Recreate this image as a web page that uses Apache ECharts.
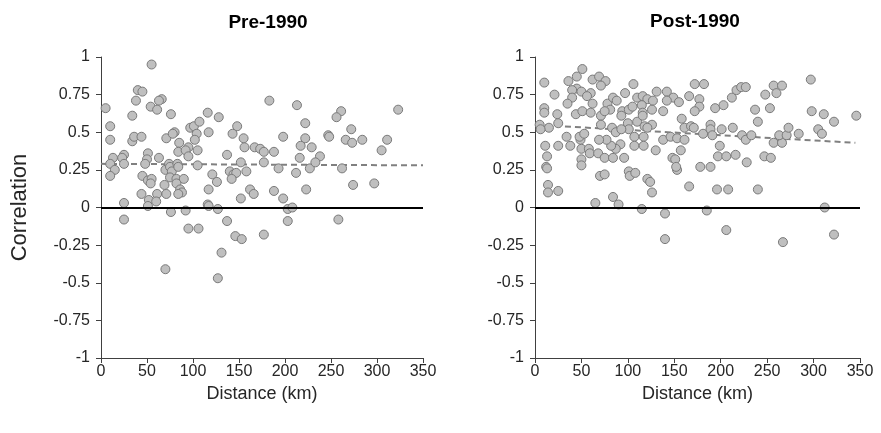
<!DOCTYPE html>
<html>
<head>
<meta charset="utf-8">
<script src="https://cdn.jsdelivr.net/npm/echarts@6/dist/echarts.min.js"></script>
<style>
  html, body { margin: 0; padding: 0; background: #fff; }
  #chart { width: 881px; height: 433px; }
</style>
</head>
<body>
<div id="chart"></div>
<script>
// Panel titles and axis names
var panelTitles = ['Pre-1990', 'Post-1990'];
var xAxisName = 'Distance (km)';
var yAxisName = 'Correlation';

// Axis ranges and tick steps
var xRange = [0, 350];
var xStep = 50;
var yRange = [-1, 1];
var yStep = 0.25;

// Site pairs before 1990: [distance km, correlation]
var pre1990 = [
  [5,0.66],[55,0.95],[40,0.78],[45,0.77],[38,0.71],[66,0.72],[63,0.71],[54,0.67],[61,0.65],[76,0.62],
  [34,0.61],[10,0.54],[10,0.45],[34,0.44],[36,0.47],[44,0.47],[71,0.46],[80,0.50],[78,0.49],[85,0.43],
  [84,0.37],[97,0.53],[101,0.54],[107,0.57],[104,0.49],[102,0.45],[95,0.40],[92,0.38],[105,0.38],[95,0.34],
  [116,0.63],[117,0.50],[128,0.60],[148,0.54],[143,0.49],[155,0.46],[156,0.40],[167,0.40],[173,0.39],[177,0.37],
  [188,0.37],[137,0.35],[183,0.71],[198,0.47],[213,0.68],[222,0.56],[222,0.46],[217,0.41],[229,0.40],[216,0.33],
  [238,0.34],[247,0.48],[248,0.47],[261,0.64],[256,0.60],[272,0.52],[266,0.45],[273,0.43],[284,0.45],[305,0.38],
  [311,0.45],[323,0.65],[25,0.35],[23,0.33],[13,0.33],[51,0.36],[50,0.32],[63,0.33],
  [10,0.29],[15,0.25],[10,0.21],[25,0.29],[25,0.03],[25,-0.08],[48,0.29],[45,0.21],[51,0.18],[55,0.19],
  [54,0.16],[44,0.09],[52,0.05],[51,0.01],[61,0.09],[60,0.04],[69,0.15],[71,0.09],[70,0.25],[74,0.29],
  [75,0.27],[77,0.24],[75,0.20],[83,0.29],[84,0.27],[82,0.19],[90,0.19],[82,0.16],[86,0.12],[88,0.10],
  [84,0.09],[76,-0.03],[92,-0.02],[95,-0.14],[106,-0.14],[70,-0.41],[105,0.28],[117,0.12],[121,0.22],[126,0.17],
  [116,0.02],[117,0.01],[127,-0.01],[137,-0.09],[131,-0.30],[127,-0.47],[146,-0.19],[153,-0.21],[140,0.24],[144,0.22],
  [147,0.23],[142,0.19],[158,0.24],[152,0.06],[152,0.30],[162,0.12],[166,0.09],[177,0.30],[177,-0.18],[193,0.26],
  [188,0.11],[198,0.06],[203,-0.01],[208,0.00],[203,-0.09],[212,0.23],[223,0.12],[227,0.26],[233,0.30],[262,0.26],
  [258,-0.08],[274,0.15],[297,0.16]
];

// Site pairs after 1990: [distance km, correlation]
var post1990 = [
  [10,0.83],[51,0.92],[45,0.87],[36,0.84],[45,0.79],[62,0.85],[69,0.87],[76,0.84],[71,0.81],[106,0.82],
  [40,0.78],[40,0.73],[50,0.77],[60,0.76],[56,0.74],[21,0.75],[35,0.69],[62,0.69],[44,0.62],[51,0.64],
  [60,0.63],[10,0.66],[10,0.63],[24,0.62],[25,0.56],[5,0.55],[15,0.53],[6,0.52],[71,0.61],[78,0.69],
  [84,0.73],[88,0.71],[81,0.65],[75,0.64],[71,0.55],[83,0.53],[87,0.50],[97,0.76],[94,0.64],[93,0.61],
  [101,0.65],[105,0.67],[110,0.73],[116,0.74],[121,0.72],[127,0.71],[131,0.77],[142,0.77],[149,0.73],[155,0.70],
  [142,0.71],[115,0.68],[116,0.63],[126,0.65],[138,0.64],[110,0.57],[116,0.61],[118,0.54],[126,0.55],[121,0.53],
  [100,0.56],[101,0.52],[107,0.47],[117,0.47],[107,0.41],[117,0.41],[93,0.52],[92,0.42],[87,0.39],[82,0.41],
  [77,0.45],[69,0.45],[49,0.45],[48,0.47],[53,0.49],[50,0.39],[58,0.39],[59,0.36],[68,0.36],[75,0.33],
  [84,0.33],[96,0.33],[50,0.32],[50,0.28],[34,0.47],[38,0.41],[25,0.41],[11,0.41],[13,0.34],[12,0.27],
  [130,0.38],[138,0.45],[146,0.47],[153,0.46],[161,0.45],[157,0.38],[148,0.33],[151,0.32],[158,0.59],[161,0.53],
  [168,0.54],[171,0.53],[166,0.74],[172,0.82],[182,0.82],[177,0.72],[177,0.67],[172,0.64],[181,0.49],[189,0.55],
  [189,0.52],[191,0.48],[201,0.52],[199,0.41],[194,0.66],[203,0.68],[212,0.73],[217,0.78],[222,0.80],[227,0.80],
  [213,0.53],[223,0.48],[227,0.45],[233,0.48],[197,0.34],[206,0.34],[216,0.35],[228,0.30],[237,0.65],[240,0.57],
  [248,0.75],[253,0.66],[257,0.81],[266,0.81],[260,0.76],[247,0.34],[254,0.33],[257,0.43],[266,0.43],[263,0.48],
  [271,0.48],[273,0.53],[284,0.49],[297,0.85],[298,0.64],[311,0.62],[322,0.57],[346,0.61],[305,0.52],[309,0.49],
  [13,0.26],[14,0.15],[14,0.10],[25,0.11],[70,0.21],[75,0.22],[101,0.24],[102,0.21],[108,0.23],[121,0.19],
  [124,0.17],[126,0.10],[65,0.03],[84,0.07],[90,0.02],[115,-0.01],[140,-0.04],[140,-0.21],[153,0.25],[166,0.14],
  [178,0.27],[189,0.27],[185,-0.02],[196,0.12],[208,0.12],[206,-0.15],[240,0.12],[267,-0.23],[312,0.00],[322,-0.18],
  [152,0.27]
];

// Fitted trend lines: end points [distance km, correlation]
var preTrend = [[0, 0.29], [350, 0.28]];
var postTrend = [[0, 0.55], [345, 0.43]];

var FONT = '"Liberation Sans", Arial, sans-serif';
var TEXT = '#262626';
var AXIS = '#404040';

var chart = echarts.init(document.getElementById('chart'), null, { renderer: 'canvas' });

function xAxisOf(gridIndex) {
  return {
    gridIndex: gridIndex, type: 'value', min: xRange[0], max: xRange[1], interval: xStep,
    name: xAxisName, nameLocation: 'middle', nameGap: 18,
    nameTextStyle: { fontFamily: FONT, fontSize: 18, color: TEXT },
    axisLine: { show: true, onZero: false, lineStyle: { color: AXIS, width: 1 } },
    axisTick: { show: true, inside: false, length: 5, lineStyle: { color: AXIS } },
    axisLabel: { fontFamily: FONT, fontSize: 16, color: TEXT, margin: 6 },
    splitLine: { show: false }
  };
}

function yAxisOf(gridIndex, named) {
  return {
    gridIndex: gridIndex, type: 'value', min: yRange[0], max: yRange[1], interval: yStep,
    name: named ? yAxisName : '', nameLocation: 'middle', nameGap: 70,
    nameTextStyle: { fontFamily: FONT, fontSize: 22, color: TEXT },
    axisLine: { show: true, onZero: false, lineStyle: { color: AXIS, width: 1 } },
    axisTick: { show: true, inside: false, length: 5, lineStyle: { color: AXIS } },
    axisLabel: { fontFamily: FONT, fontSize: 16, color: TEXT, margin: 11 },
    splitLine: { show: false }
  };
}

function trendSeries(idx, pts) {
  return {
    type: 'line', xAxisIndex: idx, yAxisIndex: idx, data: pts, z: 2,
    symbol: 'none', silent: true,
    lineStyle: { color: '#808080', width: 2, type: [6, 4] },
    markLine: {
      silent: true, symbol: ['none', 'none'], label: { show: false },
      lineStyle: { color: '#000', width: 2, type: 'solid' },
      data: [{ yAxis: 0 }]
    }
  };
}

function scatterSeries(idx, pts) {
  return {
    type: 'scatter', xAxisIndex: idx, yAxisIndex: idx, data: pts, z: 3,
    symbol: 'circle', symbolSize: 9,
    itemStyle: { color: '#bfbfbf', borderColor: '#7a7a7a', borderWidth: 1, opacity: 1 }
  };
}

chart.setOption({
  animation: false,
  backgroundColor: '#fff',
  title: [
    { text: panelTitles[0], left: 263, top: 8, textAlign: 'center',
      textStyle: { fontFamily: FONT, fontSize: 19, fontWeight: 'bold', color: '#000' } },
    { text: panelTitles[1], left: 690, top: 7, textAlign: 'center',
      textStyle: { fontFamily: FONT, fontSize: 19, fontWeight: 'bold', color: '#000' } }
  ],
  grid: [
    { left: 101, top: 57, width: 322, height: 301 },
    { left: 535, top: 57, width: 325, height: 301 }
  ],
  xAxis: [xAxisOf(0), xAxisOf(1)],
  yAxis: [yAxisOf(0, true), yAxisOf(1, false)],
  series: [
    trendSeries(0, preTrend),
    scatterSeries(0, pre1990),
    trendSeries(1, postTrend),
    scatterSeries(1, post1990)
  ]
});
</script>
</body>
</html>
